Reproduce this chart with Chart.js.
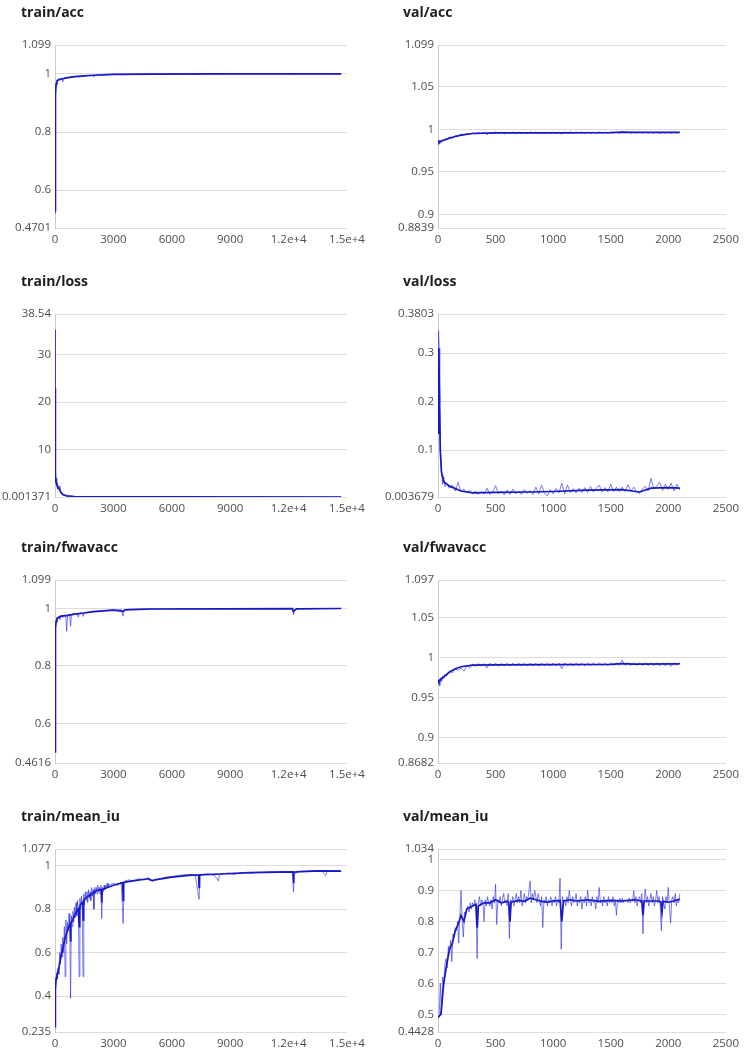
<!DOCTYPE html>
<html><head><meta charset="utf-8">
<script src="https://cdn.jsdelivr.net/npm/chart.js@4.4.1/dist/chart.umd.min.js"></script>
<style>
html,body{margin:0;padding:0;background:#fff;width:744px;height:1050px;overflow:hidden;position:relative}
.panel{position:absolute;width:372px;height:262px}
canvas{display:block}
.ttl{position:absolute;font-family:'Open Sans','Noto Sans',sans-serif;font-weight:bold;font-size:14px;line-height:18px;color:#1e1e1e;white-space:nowrap}
</style></head><body>
<div class="panel" style="left:0;top:0"><canvas id="c0" width="372" height="262"></canvas></div>
<div class="panel" style="left:372px;top:0"><canvas id="c1" width="372" height="262"></canvas></div>
<div class="panel" style="left:0;top:269px"><canvas id="c2" width="372" height="262"></canvas></div>
<div class="panel" style="left:372px;top:269px"><canvas id="c3" width="372" height="262"></canvas></div>
<div class="panel" style="left:0;top:535px"><canvas id="c4" width="372" height="262"></canvas></div>
<div class="panel" style="left:372px;top:535px"><canvas id="c5" width="372" height="262"></canvas></div>
<div class="panel" style="left:0;top:804px"><canvas id="c6" width="372" height="262"></canvas></div>
<div class="panel" style="left:372px;top:804px"><canvas id="c7" width="372" height="262"></canvas></div>
<div class="ttl" style="left:21px;top:3px">train/acc</div>
<div class="ttl" style="left:403px;top:3px">val/acc</div>
<div class="ttl" style="left:21px;top:272px">train/loss</div>
<div class="ttl" style="left:403px;top:272px">val/loss</div>
<div class="ttl" style="left:21px;top:538px">train/fwavacc</div>
<div class="ttl" style="left:403px;top:538px">val/fwavacc</div>
<div class="ttl" style="left:21px;top:807px">train/mean_iu</div>
<div class="ttl" style="left:403px;top:807px">val/mean_iu</div>
<script>
// ---------- x ticks ----------
const trainXTicks = [0, 3000, 6000, 9000, 12000, 15000];
const trainXLabels = ["0", "3000", "6000", "9000", "1.2e+4", "1.5e+4"];
const valXTicks = [0, 500, 1000, 1500, 2000, 2500];
const valXLabels = ["0", "500", "1000", "1500", "2000", "2500"];

// ---------- y ticks (first = axis min, last = axis max) ----------
const trainAccYTicks = [0.4701, 0.6, 0.8, 1, 1.099];
const valAccYTicks = [0.8839, 0.9, 0.95, 1, 1.05, 1.099];
const trainLossYTicks = [0.001371, 10, 20, 30, 38.54];
const valLossYTicks = [0.003679, 0.1, 0.2, 0.3, 0.3803];
const trainFwYTicks = [0.4616, 0.6, 0.8, 1, 1.099];
const valFwYTicks = [0.8682, 0.9, 0.95, 1, 1.05, 1.097];
const trainMiouYTicks = [0.235, 0.4, 0.6, 0.8, 1, 1.077];
const valMiouYTicks = [0.4428, 0.5, 0.6, 0.7, 0.8, 0.9, 1, 1.034];

// ---------- training steps ----------
const trainSteps = [
  0,10,20,30,40,60,80,100,150,200,
  250,300,350,400,450,500,550,600,650,700,
  750,800,850,900,1000,1100,1200,1250,1300,1400,
  1450,1500,1600,1700,1800,1900,2000,2100,2200,2300,
  2400,2450,2500,2600,2800,3000,3200,3400,3500,3550,
  3600,3800,4000,4300,4600,4900,5000,5100,5400,5700,
  6000,6300,6600,6900,7200,7400,7450,7600,7900,8200,
  8400,8600,8900,9200,9500,9800,10100,10400,10700,11000,
  11300,11600,11900,12200,12250,12300,12500,12800,13100,13400,
  13700,14000,14300,14500,14700];

const trainAccRaw = [
  0.52,0.66,0.86,0.9,0.95,0.97,0.975,0.978,0.98,0.982,
  0.978,0.984,0.985,0.972,0.986,0.985,0.987,0.986,0.988,0.987,
  0.989,0.988,0.99,0.989,0.99,0.991,0.99,0.988,0.992,0.992,
  0.991,0.993,0.993,0.994,0.994,0.995,0.99,0.995,0.996,0.996,
  0.995,0.996,0.997,0.997,0.997,0.998,0.998,0.998,0.996,0.998,
  0.998,0.998,0.999,0.999,0.999,0.999,0.999,0.999,0.999,0.999,
  0.9992,0.9993,0.9994,0.9994,0.9995,0.998,0.9995,0.9995,0.9996,0.9996,
  0.9992,0.9996,0.9997,0.9997,0.9997,0.9997,0.9997,0.9998,0.9998,0.9998,
  0.9998,0.9998,0.9998,0.9998,0.997,0.9995,0.9998,0.9998,0.9998,0.9999,
  0.9999,0.9999,0.9999,0.9999,0.9999];
const trainAccSmSteps = [0,10,20,40,60,100,200,400,600,1000,1500,2000,3000,5000,8000,14700];
const trainAccSm = [0.53,0.66,0.8,0.93,0.965,0.975,0.98,0.983,0.986,0.99,0.993,0.995,0.998,0.999,0.9996,0.9999];

const trainLossRaw = [
  35.2,3.5,23,8,5,4,3,2.5,2.2,1.8,
  2.4,1.2,0.8,0.5,0.4,0.3,0.25,0.3,0.2,0.18,
  0.16,0.25,0.14,0.12,0.1,0.09,0.1,0.12,0.08,0.07,
  0.09,0.06,0.05,0.05,0.04,0.04,0.05,0.03,0.03,0.03,
  0.04,0.03,0.025,0.025,0.022,0.02,0.02,0.018,0.04,0.02,
  0.018,0.016,0.015,0.014,0.013,0.012,0.015,0.012,0.011,0.011,
  0.01,0.01,0.009,0.009,0.009,0.015,0.009,0.008,0.008,0.008,
  0.009,0.007,0.007,0.007,0.006,0.006,0.006,0.006,0.005,0.005,
  0.005,0.005,0.005,0.005,0.012,0.006,0.005,0.004,0.004,0.004,
  0.004,0.004,0.004,0.004,0.004];
const trainLossSmSteps = [0,10,30,60,100,200,300,400,600,1000,2000,5000,14700];
const trainLossSm = [23,3.5,4,3,2.5,1.8,1.0,0.5,0.25,0.1,0.04,0.012,0.004];

const trainFwRaw = [
  0.5,0.642,0.85,0.9,0.94,0.96,0.965,0.968,0.97,0.972,
  0.96,0.974,0.975,0.968,0.976,0.977,0.978,0.92,0.977,0.978,
  0.98,0.938,0.979,0.98,0.981,0.982,0.97,0.982,0.984,0.983,
  0.972,0.985,0.986,0.987,0.988,0.989,0.99,0.99,0.991,0.992,
  0.988,0.992,0.993,0.993,0.994,0.995,0.995,0.996,0.973,0.992,
  0.996,0.997,0.997,0.998,0.998,0.998,0.997,0.998,0.998,0.9985,
  0.999,0.999,0.999,0.999,0.999,0.998,0.999,0.999,0.999,0.999,
  0.9985,0.9992,0.9993,0.9993,0.9994,0.9994,0.9995,0.9995,0.9995,0.9995,
  0.9996,0.9996,0.9996,0.9995,0.978,0.995,0.9996,0.9997,0.9997,0.9997,
  0.9997,0.9997,0.9997,0.9998,0.9998];
const trainFwSmSteps = [0,10,20,40,60,100,300,600,1000,1500,2000,3000,3500,3600,5000,12200,12250,12400,14700];
const trainFwSm = [0.5,0.64,0.8,0.93,0.955,0.965,0.973,0.975,0.98,0.984,0.989,0.994,0.99,0.995,0.998,0.9995,0.99,0.9985,0.9998];

// train/mean_iu is sampled more densely early on
const trainMiouSteps = [
  0,10,20,40,80,120,160,200,240,280,
  320,360,400,440,480,520,560,600,640,680,
  720,760,800,840,880,920,960,1000,1040,1080,
  1120,1160,1200,1240,1280,1320,1360,1400,1440,1480,
  1520,1560,1600,1640,1680,1720,1760,1800,1840,1880,
  1920,1960,2000,2040,2080,2120,2160,2200,2240,2280,
  2320,2360,2400,2440,2480,2520,2560,2600,2640,2680,
  2720,2760,2800,3000,3200,3400,3500,3550,3600,3800,
  4000,4300,4600,4800,4900,5000,5100,5400,5700,6000,
  6300,6600,6900,7200,7400,7450,7600,7900,8200,8400,
  8450,8600,8900,9200,9500,9800,10100,10400,10700,11000,
  11300,11600,11900,12200,12250,12300,12500,12800,13100,13400,
  13700,13900,14000,14300,14500,14700];
const trainMiouRaw = [
  0.26,0.33,0.43,0.47,0.5,0.48,0.53,0.5,0.6,0.55,
  0.64,0.58,0.67,0.6,0.72,0.49,0.75,0.64,0.74,0.7,
  0.78,0.72,0.39,0.77,0.72,0.79,0.74,0.81,0.76,0.83,
  0.77,0.84,0.79,0.49,0.85,0.8,0.86,0.81,0.49,0.87,
  0.82,0.88,0.84,0.88,0.83,0.89,0.85,0.88,0.84,0.9,
  0.86,0.89,0.8,0.9,0.87,0.9,0.87,0.91,0.88,0.9,
  0.87,0.91,0.757,0.9,0.88,0.91,0.89,0.91,0.9,0.92,
  0.9,0.915,0.91,0.92,0.91,0.925,0.734,0.92,0.93,0.935,
  0.93,0.94,0.935,0.945,0.935,0.93,0.935,0.94,0.948,0.95,
  0.955,0.958,0.96,0.958,0.845,0.955,0.96,0.962,0.955,0.93,
  0.96,0.963,0.966,0.96,0.967,0.968,0.965,0.97,0.97,0.972,
  0.972,0.974,0.974,0.97,0.88,0.96,0.974,0.975,0.976,0.976,
  0.977,0.955,0.977,0.978,0.977,0.976];
const trainMiouSmSteps = [
  0,20,60,100,200,300,400,500,600,700,
  780,800,820,900,1000,1100,1200,1230,1250,1270,
  1300,1400,1430,1450,1470,1500,1700,1900,2100,2380,
  2400,2420,2700,3000,3400,3480,3500,3520,3600,4000,
  4800,4900,5000,5200,6000,7000,7380,7400,7420,8500,
  10000,12200,12230,12250,12270,12400,13500,14700];
const trainMiouSm = [
  0.26,0.43,0.48,0.5,0.53,0.58,0.62,0.66,0.69,0.72,
  0.73,0.65,0.735,0.75,0.77,0.79,0.8,0.8,0.72,0.81,
  0.82,0.83,0.835,0.75,0.84,0.845,0.86,0.87,0.885,0.89,
  0.83,0.89,0.9,0.91,0.92,0.922,0.84,0.922,0.925,0.93,
  0.94,0.935,0.932,0.936,0.948,0.957,0.958,0.9,0.958,0.962,
  0.968,0.972,0.972,0.92,0.97,0.972,0.976,0.975];

// ---------- validation steps ----------
const valSteps = [
  0,5,10,15,20,30,40,50,60,75,
  100,125,150,175,200,225,250,275,300,325,
  350,375,400,425,450,475,500,525,550,575,
  600,625,650,675,700,725,750,775,800,825,
  850,875,900,925,950,975,1000,1025,1050,1075,
  1100,1125,1150,1175,1200,1225,1250,1275,1300,1325,
  1350,1375,1400,1425,1450,1475,1500,1525,1550,1575,
  1600,1625,1650,1675,1700,1725,1750,1775,1800,1825,
  1850,1875,1900,1925,1950,1975,2000,2025,2050,2075,
  2100];

const valAccRaw = [
  0.985,0.982,0.987,0.983,0.9865,0.984,0.988,0.986,0.989,0.9875,
  0.991,0.9895,0.9925,0.9915,0.9945,0.993,0.9952,0.9938,0.9958,0.9945,
  0.9962,0.9948,0.9965,0.9935,0.9962,0.9948,0.9968,0.995,0.9966,0.9945,
  0.9965,0.995,0.9968,0.9948,0.9966,0.9952,0.9964,0.995,0.9968,0.9953,
  0.9966,0.995,0.9964,0.9952,0.9967,0.995,0.9965,0.9953,0.9968,0.994,
  0.9968,0.9952,0.997,0.9953,0.9966,0.9955,0.9968,0.9952,0.9967,0.9954,
  0.9966,0.9953,0.9969,0.9954,0.9967,0.9952,0.9968,0.9955,0.9966,0.9953,
  0.9978,0.9955,0.9968,0.9954,0.9967,0.9955,0.9966,0.9953,0.9968,0.9954,
  0.9966,0.9952,0.9967,0.9948,0.9966,0.9953,0.9967,0.995,0.9966,0.9954,
  0.9966];
const valAccSmSteps = [0,50,100,150,200,300,500,1000,1500,1600,1700,2100];
const valAccSm = [0.985,0.987,0.9895,0.9915,0.993,0.995,0.9957,0.9958,0.9961,0.9965,0.9962,0.9962];

const valLossRaw = [
  0.135,0.346,0.31,0.2,0.1,0.06,0.03,0.045,0.025,0.032,
  0.022,0.028,0.016,0.034,0.014,0.02,0.012,0.018,0.01,0.016,
  0.009,0.015,0.01,0.022,0.009,0.014,0.027,0.01,0.016,0.008,
  0.018,0.009,0.02,0.01,0.016,0.009,0.019,0.011,0.017,0.009,
  0.024,0.01,0.028,0.011,0.006,0.019,0.01,0.021,0.012,0.032,
  0.01,0.028,0.013,0.021,0.012,0.022,0.013,0.023,0.013,0.025,
  0.014,0.022,0.028,0.014,0.023,0.014,0.03,0.015,0.024,0.015,
  0.024,0.015,0.029,0.016,0.024,0.014,0.011,0.02,0.026,0.016,
  0.042,0.02,0.027,0.034,0.017,0.03,0.019,0.032,0.016,0.03,
  0.018];
const valLossSmSteps = [0,5,10,20,30,50,100,200,300,500,800,1000,1300,1600,1750,1850,2000,2100];
const valLossSm = [0.135,0.31,0.25,0.1,0.055,0.035,0.026,0.016,0.012,0.013,0.014,0.015,0.018,0.019,0.014,0.022,0.023,0.022];

const valFwRaw = [
  0.971,0.967,0.973,0.965,0.975,0.97,0.977,0.974,0.979,0.977,
  0.983,0.981,0.986,0.984,0.987,0.983,0.99,0.987,0.992,0.989,
  0.9925,0.9895,0.9925,0.987,0.993,0.9895,0.9932,0.989,0.9928,0.9895,
  0.993,0.9895,0.9932,0.9895,0.993,0.9898,0.9928,0.9893,0.9932,0.9897,
  0.9928,0.9892,0.9932,0.9898,0.993,0.9895,0.9933,0.9896,0.9932,0.986,
  0.9935,0.99,0.9932,0.9898,0.9933,0.99,0.9935,0.9898,0.9932,0.99,
  0.9933,0.9902,0.9938,0.99,0.9934,0.9898,0.9935,0.99,0.9933,0.9902,
  0.9968,0.9903,0.9935,0.99,0.9936,0.9902,0.9934,0.99,0.9935,0.9898,
  0.9934,0.99,0.9936,0.9895,0.9933,0.9898,0.9935,0.989,0.9934,0.9905,
  0.994];
const valFwSmSteps = [0,20,50,100,150,200,300,500,1000,1500,1600,1700,2100];
const valFwSm = [0.97,0.972,0.976,0.982,0.986,0.9885,0.9905,0.991,0.9912,0.9916,0.9925,0.9918,0.9922];

// val/mean_iu is sampled every 10 steps
const valMiouSteps = [
  0,10,20,30,40,50,60,70,80,90,
  100,110,120,130,140,150,160,170,180,190,
  200,210,220,230,240,250,260,270,280,290,
  300,310,320,330,340,350,360,370,380,390,
  400,410,420,430,440,450,460,470,480,490,
  500,510,520,530,540,550,560,570,580,590,
  600,610,620,630,640,650,660,670,680,690,
  700,710,720,730,740,750,760,770,780,790,
  800,810,820,830,840,850,860,870,880,890,
  900,910,920,930,940,950,960,970,980,990,
  1000,1010,1020,1030,1040,1050,1060,1070,1080,1090,
  1100,1110,1120,1130,1140,1150,1160,1170,1180,1190,
  1200,1210,1220,1230,1240,1250,1260,1270,1280,1290,
  1300,1310,1320,1330,1340,1350,1360,1370,1380,1390,
  1400,1410,1420,1430,1440,1450,1460,1470,1480,1490,
  1500,1510,1520,1530,1540,1550,1560,1570,1580,1590,
  1600,1610,1620,1630,1640,1650,1660,1670,1680,1690,
  1700,1710,1720,1730,1740,1750,1760,1770,1780,1790,
  1800,1810,1820,1830,1840,1850,1860,1870,1880,1890,
  1900,1910,1920,1930,1940,1950,1960,1970,1980,1990,
  2000,2010,2020,2030,2040,2050,2060,2070,2080,2090,
  2100];
const valMiouRaw = [
  0.49,0.495,0.6,0.5,0.62,0.6,0.66,0.68,0.65,0.72,
  0.7,0.74,0.67,0.76,0.75,0.78,0.77,0.8,0.73,0.82,
  0.9,0.8,0.75,0.83,0.82,0.84,0.85,0.83,0.86,0.84,
  0.86,0.85,0.87,0.84,0.68,0.86,0.88,0.85,0.87,0.86,
  0.8,0.87,0.85,0.88,0.86,0.85,0.87,0.84,0.88,0.86,
  0.92,0.79,0.87,0.86,0.88,0.85,0.87,0.89,0.86,0.87,
  0.85,0.89,0.745,0.87,0.86,0.88,0.85,0.87,0.89,0.86,
  0.88,0.86,0.9,0.85,0.87,0.89,0.86,0.88,0.87,0.9,
  0.93,0.86,0.89,0.87,0.9,0.88,0.86,0.89,0.87,0.85,
  0.88,0.78,0.87,0.86,0.88,0.85,0.87,0.86,0.88,0.85,
  0.87,0.86,0.88,0.85,0.87,0.86,0.94,0.71,0.88,0.86,
  0.87,0.85,0.88,0.86,0.9,0.87,0.85,0.88,0.86,0.87,
  0.89,0.85,0.87,0.86,0.88,0.84,0.87,0.86,0.88,0.85,
  0.9,0.86,0.87,0.85,0.88,0.86,0.87,0.84,0.88,0.86,
  0.91,0.86,0.87,0.85,0.88,0.86,0.87,0.85,0.88,0.86,
  0.87,0.86,0.88,0.85,0.87,0.82,0.87,0.86,0.875,0.86,
  0.875,0.86,0.87,0.865,0.87,0.86,0.875,0.86,0.87,0.865,
  0.9,0.86,0.88,0.85,0.87,0.88,0.86,0.89,0.76,0.87,
  0.905,0.86,0.88,0.85,0.87,0.89,0.86,0.88,0.85,0.87,
  0.9,0.86,0.88,0.85,0.77,0.88,0.86,0.84,0.88,0.86,
  0.91,0.85,0.795,0.87,0.88,0.86,0.89,0.85,0.87,0.86,
  0.89];
const valMiouSmSteps = [
  0,25,50,75,100,125,150,175,200,225,
  250,300,330,340,350,400,450,500,550,600,
  615,625,635,700,750,800,850,900,950,1000,
  1060,1075,1090,1150,1200,1300,1400,1500,1600,1700,
  1770,1780,1790,1900,1935,1945,1955,2000,2050,2100];
const valMiouSm = [
  0.49,0.5,0.6,0.66,0.71,0.73,0.77,0.79,0.82,0.8,
  0.84,0.85,0.855,0.78,0.85,0.86,0.86,0.87,0.86,0.865,
  0.862,0.8,0.862,0.868,0.865,0.875,0.87,0.865,0.862,0.866,
  0.868,0.8,0.866,0.87,0.866,0.87,0.865,0.868,0.866,0.87,
  0.866,0.82,0.866,0.866,0.864,0.83,0.865,0.862,0.866,0.872];

// ---------- drawing ----------
const FONT = "'Open Sans', 'Noto Sans', sans-serif";
const RAW_COLOR = 'rgba(45,45,230,0.62)';
const SM_COLOR = '#1818c4';

function toPoints(xs, ys) { return xs.map((x, i) => ({ x: x, y: ys[i] })); }

function panel(id, side, steps, raw, smSteps, sm, yTicks, xTicks, xLabels) {
  const left = side === 'L';
  const plotL = left ? 55 : 66;
  const padR = left ? 25 : 15;
  new Chart(document.getElementById(id), {
    type: 'line',
    data: {
      datasets: [
        { data: toPoints(steps, raw), borderColor: RAW_COLOR, borderWidth: 1, pointRadius: 0, tension: 0, order: 2 },
        { data: toPoints(smSteps, sm), borderColor: SM_COLOR, borderWidth: 1.7, pointRadius: 0, tension: 0, order: 1 }
      ]
    },
    options: {
      responsive: false, animation: false, devicePixelRatio: 1,
      layout: { padding: { left: 0, right: padR, top: 45, bottom: 0 } },
      plugins: { legend: { display: false }, tooltip: { enabled: false }, title: { display: false } },
      scales: {
        x: {
          type: 'linear', min: xTicks[0], max: xTicks[xTicks.length - 1],
          grid: { display: false, drawTicks: false }, border: { display: false },
          afterBuildTicks: s => { s.ticks = xTicks.map(v => ({ value: v })); },
          ticks: { autoSkip: false, maxRotation: 0, padding: 5, color: '#4d4d4d',
            font: { family: FONT, size: 11.5 }, callback: (v, i) => xLabels[i] },
          afterFit: s => { s.height = 34; }
        },
        y: {
          type: 'linear', min: yTicks[0], max: yTicks[yTicks.length - 1],
          grid: { color: '#dddddd', drawTicks: false, lineWidth: 1 },
          border: { display: true, color: '#cccccc' },
          afterBuildTicks: s => { s.ticks = yTicks.map(v => ({ value: v })); },
          ticks: { autoSkip: false, padding: 4, color: '#4d4d4d',
            font: { family: FONT, size: 11.5 }, callback: v => String(v) },
          afterFit: s => { s.width = plotL; }
        }
      }
    }
  });
}

panel('c0', 'L', trainSteps, trainAccRaw, trainAccSmSteps, trainAccSm, trainAccYTicks, trainXTicks, trainXLabels);
panel('c1', 'R', valSteps, valAccRaw, valAccSmSteps, valAccSm, valAccYTicks, valXTicks, valXLabels);
panel('c2', 'L', trainSteps, trainLossRaw, trainLossSmSteps, trainLossSm, trainLossYTicks, trainXTicks, trainXLabels);
panel('c3', 'R', valSteps, valLossRaw, valLossSmSteps, valLossSm, valLossYTicks, valXTicks, valXLabels);
panel('c4', 'L', trainSteps, trainFwRaw, trainFwSmSteps, trainFwSm, trainFwYTicks, trainXTicks, trainXLabels);
panel('c5', 'R', valSteps, valFwRaw, valFwSmSteps, valFwSm, valFwYTicks, valXTicks, valXLabels);
panel('c6', 'L', trainMiouSteps, trainMiouRaw, trainMiouSmSteps, trainMiouSm, trainMiouYTicks, trainXTicks, trainXLabels);
panel('c7', 'R', valMiouSteps, valMiouRaw, valMiouSmSteps, valMiouSm, valMiouYTicks, valXTicks, valXLabels);
</script>
</body></html>
